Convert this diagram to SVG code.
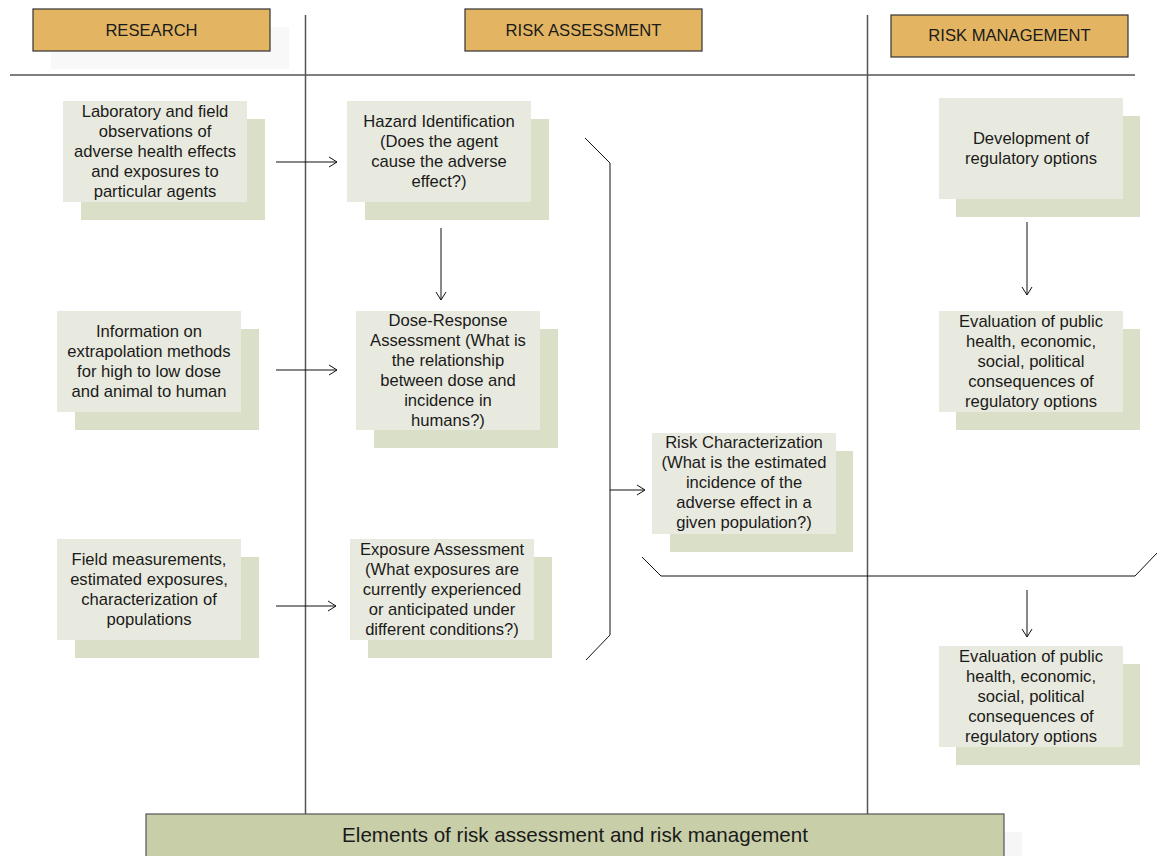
<svg xmlns="http://www.w3.org/2000/svg" width="1158" height="856" viewBox="0 0 1158 856">
<style>
.hdr{fill:#e3b562;stroke:#333;stroke-width:1.2}
.fr{fill:#e9eadf}
.bk{fill:#dadfc7}
.t{font-family:"Liberation Sans",Arial,sans-serif;font-size:16.6px;fill:#1a1a1a;text-anchor:middle}
.div{stroke:#555;stroke-width:1.5;fill:none}
.con{stroke:#111;stroke-width:1;fill:none}
</style>
<defs>
<marker id="arr" markerWidth="12" markerHeight="12" refX="10" refY="6" orient="auto" markerUnits="userSpaceOnUse">
<polyline points="2,1 10,6 2,11" fill="none" stroke="#111" stroke-width="1"/>
</marker>
</defs>
<rect width="1158" height="856" fill="#fff"/>

<g id="dividers">
<line class="div" x1="10" y1="75" x2="1135" y2="75"/>
<line class="div" x1="305.5" y1="15" x2="305.5" y2="814"/>
<line class="div" x1="867.5" y1="15" x2="867.5" y2="814"/>
</g>

<g id="h-research">
<rect x="51" y="27" width="238" height="42" fill="#f8f8f8"/>
<rect class="hdr" x="33" y="9" width="237" height="42"/>
<text class="t" x="151.5" y="35.5">RESEARCH</text>
</g>
<g id="h-assessment">
<rect class="hdr" x="465" y="9" width="237" height="42"/>
<text class="t" x="583.5" y="35.5">RISK ASSESSMENT</text>
</g>
<g id="h-management">
<rect class="hdr" x="891" y="15" width="237" height="42"/>
<text class="t" x="1009.5" y="41">RISK MANAGEMENT</text>
</g>

<g id="n-lab">
<rect class="bk" x="81" y="119" width="184" height="101"/>
<rect class="fr" x="63" y="101" width="184" height="101"/>
<text class="t" x="155" y="117"><tspan x="155">Laboratory and field</tspan><tspan x="155" dy="20">observations of</tspan><tspan x="155" dy="20">adverse health effects</tspan><tspan x="155" dy="20">and exposures to</tspan><tspan x="155" dy="20">particular agents</tspan></text>
</g>
<g id="n-info">
<rect class="bk" x="75" y="329" width="184" height="101"/>
<rect class="fr" x="57" y="311" width="184" height="101"/>
<text class="t" x="149" y="337"><tspan x="149">Information on</tspan><tspan x="149" dy="20">extrapolation methods</tspan><tspan x="149" dy="20">for high to low dose</tspan><tspan x="149" dy="20">and animal to human</tspan></text>
</g>
<g id="n-field">
<rect class="bk" x="75" y="557" width="184" height="101"/>
<rect class="fr" x="57" y="539" width="184" height="101"/>
<text class="t" x="149" y="565"><tspan x="149">Field measurements,</tspan><tspan x="149" dy="20">estimated exposures,</tspan><tspan x="149" dy="20">characterization of</tspan><tspan x="149" dy="20">populations</tspan></text>
</g>

<g id="n-hazard">
<rect class="bk" x="365" y="119" width="184" height="101"/>
<rect class="fr" x="347" y="101" width="184" height="101"/>
<text class="t" x="439" y="127"><tspan x="439">Hazard Identification</tspan><tspan x="439" dy="20">(Does the agent</tspan><tspan x="439" dy="20">cause the adverse</tspan><tspan x="439" dy="20">effect?)</tspan></text>
</g>
<g id="n-dose">
<rect class="bk" x="374" y="329" width="184" height="119"/>
<rect class="fr" x="356" y="311" width="184" height="119"/>
<text class="t" x="448" y="326"><tspan x="448">Dose-Response</tspan><tspan x="448" dy="20">Assessment (What is</tspan><tspan x="448" dy="20">the relationship</tspan><tspan x="448" dy="20">between dose and</tspan><tspan x="448" dy="20">incidence in</tspan><tspan x="448" dy="20">humans?)</tspan></text>
</g>
<g id="n-exposure">
<rect class="bk" x="368" y="557" width="184" height="101"/>
<rect class="fr" x="350" y="539" width="184" height="101"/>
<text class="t" x="442" y="555"><tspan x="442">Exposure Assessment</tspan><tspan x="442" dy="20">(What exposures are</tspan><tspan x="442" dy="20">currently experienced</tspan><tspan x="442" dy="20">or anticipated under</tspan><tspan x="442" dy="20">different conditions?)</tspan></text>
</g>
<g id="n-riskchar">
<rect class="bk" x="670" y="451" width="183" height="101"/>
<rect class="fr" x="652" y="433" width="184" height="101"/>
<text class="t" x="744" y="448"><tspan x="744">Risk Characterization</tspan><tspan x="744" dy="20">(What is the estimated</tspan><tspan x="744" dy="20">incidence of the</tspan><tspan x="744" dy="20">adverse effect in a</tspan><tspan x="744" dy="20">given population?)</tspan></text>
</g>

<g id="n-develop">
<rect class="bk" x="956" y="116" width="184" height="101"/>
<rect class="fr" x="939" y="98" width="184" height="101"/>
<text class="t" x="1031" y="144"><tspan x="1031">Development of</tspan><tspan x="1031" dy="20">regulatory options</tspan></text>
</g>
<g id="n-eval1">
<rect class="bk" x="956" y="329" width="184" height="101"/>
<rect class="fr" x="939" y="311" width="184" height="101"/>
<text class="t" x="1031" y="327"><tspan x="1031">Evaluation of public</tspan><tspan x="1031" dy="20">health, economic,</tspan><tspan x="1031" dy="20">social, political</tspan><tspan x="1031" dy="20">consequences of</tspan><tspan x="1031" dy="20">regulatory options</tspan></text>
</g>
<g id="n-eval2">
<rect class="bk" x="956" y="664" width="184" height="101"/>
<rect class="fr" x="939" y="646" width="184" height="101"/>
<text class="t" x="1031" y="662"><tspan x="1031">Evaluation of public</tspan><tspan x="1031" dy="20">health, economic,</tspan><tspan x="1031" dy="20">social, political</tspan><tspan x="1031" dy="20">consequences of</tspan><tspan x="1031" dy="20">regulatory options</tspan></text>
</g>

<g id="connectors">
<line class="con" x1="276" y1="162" x2="337" y2="162" marker-end="url(#arr)"/>
<line class="con" x1="276" y1="370" x2="337" y2="370" marker-end="url(#arr)"/>
<line class="con" x1="276" y1="606" x2="336" y2="606" marker-end="url(#arr)"/>
<line class="con" x1="441" y1="228" x2="441" y2="300" marker-end="url(#arr)"/>
<line class="con" x1="610" y1="490" x2="645" y2="490" marker-end="url(#arr)"/>
<line class="con" x1="1027" y1="222" x2="1027" y2="295" marker-end="url(#arr)"/>
<line class="con" x1="1027" y1="590" x2="1027" y2="637" marker-end="url(#arr)"/>
<polyline class="con" points="585,138 610,163 610,635 586,660"/>
<polyline class="con" points="642,557 661,576 1135,576 1157,553"/>
</g>

<g id="title">
<rect x="1004" y="832" width="18" height="24" fill="#f6f6f6"/>
<rect x="146" y="814" width="858" height="44" fill="#c8cfa8" stroke="#555" stroke-width="1.2"/>
<text x="575" y="842" style="font-family:'Liberation Sans',Arial,sans-serif;font-size:20.6px;fill:#1a1a1a;text-anchor:middle">Elements of risk assessment and risk management</text>
</g>
</svg>
